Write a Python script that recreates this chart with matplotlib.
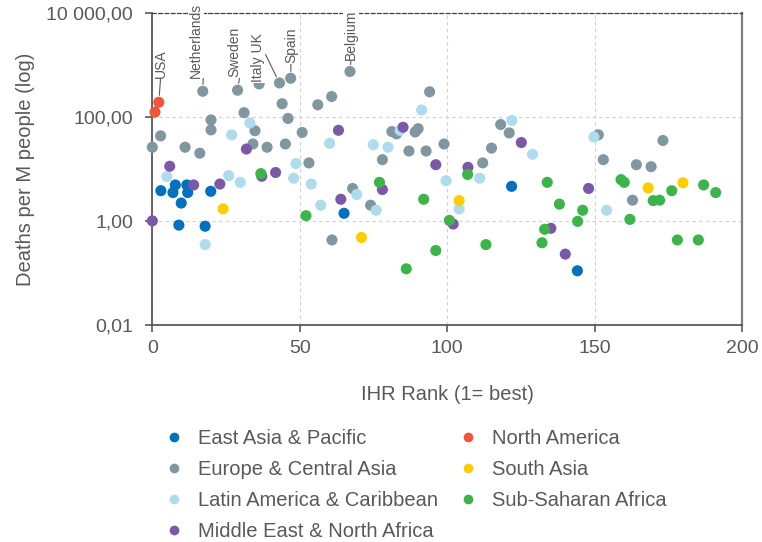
import matplotlib
matplotlib.use("Agg")
import matplotlib.pyplot as plt
from matplotlib.lines import Line2D

plt.rcParams['font.family'] = ['Liberation Sans', 'DejaVu Sans']

TXT = '#595959'

regions = ['East Asia & Pacific', 'Europe & Central Asia', 'Latin America & Caribbean',
           'Middle East & North Africa', 'North America', 'South Asia', 'Sub-Saharan Africa']
colors = ['#0070c0', '#8097a2', '#aedcee', '#7b59a8', '#f0553a', '#ffcc00', '#3bb54a']

# IHR rank / deaths per million people
east_asia_rank = [2.9, 7.8, 7.0, 11.7, 12.0, 9.8, 19.8, 9.0, 17.9, 65.0, 121.8, 144.1]
east_asia_deaths = [3.8, 4.9, 3.5, 4.9, 3.5, 2.2, 3.7, 0.83, 0.79, 1.4, 4.6, 0.11]

europe_rank = [17.1, 28.9, 36.2, 43.1, 46.9, 67.0, 44.0, 31.1, 46.0, 19.9, 19.9, 34.8,
               2.8, 0.0, 11.1, 16.1, 34.1, 38.9, 45.1, 50.8, 60.8, 56.1, 94.0, 53.1,
               67.9, 60.9, 74.0, 78.0, 81.2, 82.8, 89.1, 90.1, 87.0, 92.8, 98.9, 118.1,
               121.0, 115.0, 112.0, 151.2, 152.9, 173.1, 164.1, 169.1, 162.8]
europe_deaths = [309, 324, 427, 447, 550, 741, 178, 120, 93, 87, 56, 54,
                 43, 26, 26, 20, 30, 26, 30, 50, 245, 170, 302, 13,
                 4.2, 0.43, 2.0, 15, 52, 47, 51, 59, 22, 22, 30, 71,
                 49, 25, 13, 45, 15, 35, 12, 11, 2.5]

latam_rank = [33.1, 26.9, 48.7, 47.9, 4.9, 25.9, 29.8, 17.9, 91.3, 60.1, 53.9, 57.1,
              69.3, 75.9, 74.9, 79.9, 84.0, 99.6, 121.9, 128.9, 111.0, 104.0, 149.7, 154.0]
latam_deaths = [76, 45, 12.6, 6.6, 7.1, 7.4, 5.5, 0.35, 135, 31, 5.1, 2.0,
                3.2, 1.6, 29, 26, 55, 5.9, 85, 19, 6.6, 1.7, 41, 1.6]

mena_rank = [5.9, 31.9, 37.1, 41.8, 22.9, 14.0, 0.0, 63.1, 63.9, 78.0, 85.0, 96.1,
             107.0, 102.0, 125.1, 135.1, 140.0, 147.9]
mena_deaths = [11.2, 24, 7.2, 8.5, 5.1, 4.9, 1.0, 55, 2.6, 4.0, 63, 12,
               10.7, 0.87, 32, 0.72, 0.23, 4.2]

namerica_rank = [0.9, 2.2]
namerica_deaths = [123, 190]

sasia_rank = [24.0, 70.9, 104.0, 168.1, 179.9]
sasia_deaths = [1.7, 0.48, 2.45, 4.3, 5.4]

ssa_rank = [36.8, 52.1, 77.0, 92.0, 100.7, 96.1, 86.1, 106.9, 133.9, 113.1, 138.0, 145.9,
            144.2, 133.0, 132.1, 158.9, 160.0, 161.9, 169.8, 172.0, 176.1, 186.9, 191.0,
            178.0, 185.1]
ssa_deaths = [8.1, 1.26, 5.5, 2.6, 1.02, 0.27, 0.12, 7.8, 5.5, 0.35, 2.1, 1.6,
              0.98, 0.69, 0.38, 6.2, 5.5, 1.07, 2.45, 2.5, 3.8, 4.9, 3.5,
              0.43, 0.43]

ranks = [east_asia_rank, europe_rank, latam_rank, mena_rank, namerica_rank, sasia_rank, ssa_rank]
deaths = [east_asia_deaths, europe_deaths, latam_deaths, mena_deaths, namerica_deaths,
          sasia_deaths, ssa_deaths]

# labelled countries: name, rank, deaths, text offset (pt), line start on text box
labels = [('USA', 2.2, 190, (1.3, 17.8), (0.5, 0)),
          ('Netherlands', 17.1, 309, (-4.7, 9.9), (1, 0)),
          ('Sweden', 28.9, 324, (-2.5, 9.6), (0.9, 0)),
          ('Italy UK', 43.1, 447, (-15.7, 0.7), (1, 0.6)),
          ('Spain', 46.9, 550, (0.2, 10.8), (0.5, 0)),
          ('Belgium', 67.0, 741, (0.7, 8.1), (0.5, 0))]

fig = plt.figure(figsize=(7.62, 5.42), dpi=100)
ax = fig.add_axes([0.1999, 0.4004, 0.9741 - 0.1999, 0.9766 - 0.4004])

for r, d, c in zip(ranks, deaths, colors):
    ax.scatter(r, d, s=64, color=c, edgecolors='none', zorder=3, clip_on=False)

ax.set_yscale('log')
ax.set_xlim(0, 200)
ax.set_ylim(0.01, 10000)
ax.set_xticks([0, 50, 100, 150, 200])
ax.set_yticks([0.01, 1, 100, 10000])
ax.set_yticklabels(['0,01', '1,00', '100,00', '10 000,00'])
ax.minorticks_off()
ax.tick_params(axis='both', colors=TXT, labelsize=14, length=5, width=1.2)
ax.tick_params(axis='y', pad=9)
ax.tick_params(axis='x', pad=6)

ax.grid(True, color='#cfcfcf', linestyle=(0, (3, 3)), linewidth=0.8)
ax.set_axisbelow(True)
for s in ['left', 'bottom']:
    ax.spines[s].set_color(TXT)
    ax.spines[s].set_linewidth(1.3)
ax.spines['top'].set_color('#404040')
ax.spines['top'].set_linestyle((0, (3, 2)))
ax.spines['top'].set_linewidth(0.9)
ax.spines['right'].set_color('#7f7f7f')
ax.spines['right'].set_linewidth(1.6)

ax.set_xlabel('IHR Rank (1= best)', fontsize=14.5, color=TXT, labelpad=20)
ax.set_ylabel('Deaths per M people (log)', fontsize=14.5, color=TXT, labelpad=8)

for name, x, y, off, rel in labels:
    ax.annotate(name, xy=(x, y), xytext=off, textcoords='offset points',
                rotation=90, ha='center', va='bottom', fontsize=10, color=TXT,
                bbox=dict(fc='white', ec='none', pad=0.6),
                arrowprops=dict(arrowstyle='-', color=TXT, lw=0.8, shrinkA=0, shrinkB=5,
                                relpos=rel),
                zorder=5, annotation_clip=False)

handles = [Line2D([], [], marker='o', linestyle='none', markersize=7, color=c,
                  markeredgecolor='none') for c in colors]
fig.legend(handles, regions, loc='upper left', bbox_to_anchor=(0.2152, 0.2085),
           ncol=2, frameon=False, fontsize=14.5, labelcolor=TXT, borderpad=0,
           borderaxespad=0, handlelength=1.0, handletextpad=0.68, columnspacing=1.0,
           labelspacing=0.6)

fig.savefig('out.png', dpi=100)
